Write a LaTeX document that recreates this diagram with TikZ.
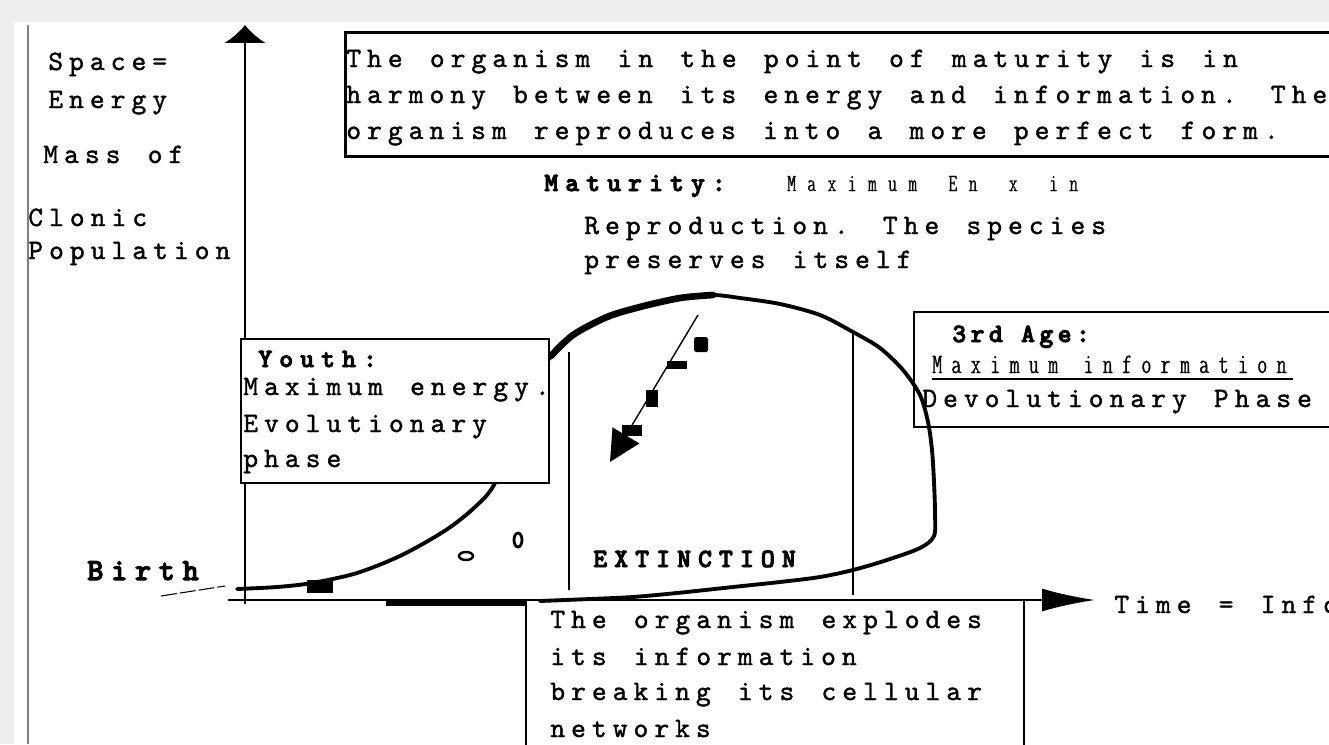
\documentclass[tikz,border=0pt]{standalone}
\usepackage{fontspec}
\newfontfamily\plainfont{lmmono10-regular}[Extension=.otf, LetterSpace=21.5, FakeBold=1.3]
\newfontfamily\heavyfont{lmmonolt10-bold}[Extension=.otf, LetterSpace=27, FakeBold=3.5]
\newfontfamily\narrowfont{lmmonoltcond10-regular}[Extension=.otf, LetterSpace=33.7, FakeBold=1]
\newcommand\plainset{\plainfont\fontsize{16}{18}\selectfont\spaceskip 15.5pt\relax}
\newcommand\heavyset{\heavyfont\fontsize{15}{17}\selectfont\spaceskip 15pt\relax}
\newcommand\narrowset{\narrowfont\fontsize{16}{18}\selectfont\spaceskip 14.5pt\relax}
\usetikzlibrary{arrows.meta}
\definecolor{pagegray}{HTML}{EDEDED}

\begin{document}
\begin{tikzpicture}[x=0.02cm, y=-0.02cm,
  txt/.style={font=\plainset, anchor=base west, inner sep=0pt},
  hdr/.style={font=\heavyset, anchor=base west, inner sep=0pt},
  thin/.style={font=\narrowset, anchor=base west, inner sep=0pt},
  panel/.style={draw, line width=1.1pt, anchor=north west, inner sep=0pt},
  axis/.style={line width=1.1pt},
  curve/.style={line width=2.2pt, line join=round, line cap=round},
  divider/.style={line width=0.8pt}]
\useasboundingbox (0,0) rectangle (1329,744);
\clip (0,0) rectangle (1329,744);
% page
\fill[pagegray] (0,0) rectangle (1329,744);
\fill[white] (14,22) rectangle (1329,744);
\draw[gray, line width=0.6pt] (28,25) -- (28,744);

% boxes behind the curve
\node[panel, line width=1.5pt, minimum width=20.1cm, minimum height=2.48cm] (harmony) at (344,31) {};
\node[panel, minimum width=8.8cm, minimum height=2.3cm] (thirdage) at (913,311) {};
\draw[line width=1.1pt] (526,600) -- (526,750) (1024,600) -- (1024,750);

% axes
\coordinate (origin) at (245,600);
\coordinate (ytop) at (245,25);
\coordinate (xleft) at (228,600);
\coordinate (xend) at (1095,600);
\draw[axis, -{Latex[length=0.36cm, width=0.84cm]}] (245,604) -- (ytop);
\draw[axis, -{Latex[length=1.06cm, width=0.46cm]}] (xleft) -- (xend);
\fill (386,600) rectangle (527,606);

% phase dividers
\draw[divider] (569,352) -- (569,590);
\draw[divider] (853,333) -- (853,595);

% life curve
\draw[curve] plot[smooth, tension=0.5] coordinates {(237,589) (277,587) (312,583) (357,573) (402,555) (446,530) (475,507) (495,483) (520,420) (550,357) (573,335) (607,317) (640,307) (680,298) (713,295) (740,298) (780,304) (820,315) (853,332) (880,348) (903,370) (920,395) (928,422) (932,450) (934,482) (935,513) (934,536) (920,548) (887,560) (853,570) (820,577) (780,582) (733,587) (677,593) (633,597) (590,599) (540,601)};
\draw[line width=3.8pt, line cap=round] plot[smooth, tension=0.5] coordinates {(551,356) (573,335) (607,317) (640,307) (680,298) (713,295)};
\fill (307,580) rectangle (333,593);
\draw[line width=1.4pt] (466,556) ellipse [x radius=7, y radius=4];
\draw[line width=1.6pt] (518,540) ellipse [x radius=4, y radius=7];

% reproduction arrow
\coordinate (seed) at (698,315);
\coordinate (offspring) at (610,462);
\draw[line width=0.8pt, -{Triangle[length=0.62cm, width=0.62cm]}] (seed) -- (offspring);
\fill[rounded corners=1pt] (694,337) rectangle (708,352);
\fill (667,361) rectangle (687,369);
\fill (646,390) rectangle (658,407);
\fill (622,425) rectangle (642,436);

% birth
\node[hdr, font=\heavyfont\fontsize{17.5}{20}\selectfont\addfontfeatures{LetterSpace=25}] (birth) at (87,580) {Birth};
\draw[line width=0.6pt, dash pattern=on 0.32cm off 0.06cm] (161,596) -- (225,586);

% youth box over the curve
\node[panel, fill=white, minimum width=6.16cm, minimum height=2.88cm] (youth) at (240,338) {};
\node[hdr] (youthhead) at (258,367) {Youth:};
\node[txt] (youth1) at (243,395) {Maximum energy.};
\node[txt] (youth2) at (243,432) {Evolutionary};
\node[txt] (youth3) at (243,467) {phase};

% axis labels
\node[txt] (space) at (48,70) {Space=};
\node[txt] (energy) at (48,108) {Energy};
\node[txt] (mass) at (43,163) {Mass of};
\node[txt] (clonic) at (28,226) {Clonic};
\node[txt] (population) at (28,259) {Population};
\node[txt] (timeinfo) at (1114,613) {Time = Info};

% maturity
\node[txt] (harmony1) at (346,67) {The organism in the point of maturity is in};
\node[txt] (harmony2) at (346,103) {harmony between its energy and information. The};
\node[txt] (harmony3) at (346,139) {organism reproduces into a more perfect form.};
\node[hdr] (maturity) at (544,191) {Maturity:};
\node[thin, font=\narrowfont\fontsize{14}{16}\selectfont\addfontfeatures{LetterSpace=47}\spaceskip 18pt\relax] (maxboth) at (787,191) {Maximum En x in};
\node[txt] (repro1) at (584,234) {Reproduction. The species};
\node[txt] (repro2) at (584,268) {preserves itself};

% third age
\node[hdr, font=\heavyfont\fontsize{15}{17}\selectfont\addfontfeatures{LetterSpace=17}\spaceskip 10.4pt\relax] (agehead) at (952,342) {3rd Age:};
\node[thin] (maxinfo) at (932,373) {Maximum information};
\draw[line width=0.9pt] (932,379) -- (1293,379);
\node[txt] (devol) at (922,407) {Devolutionary Phase};

% extinction
\node[hdr] (extinction) at (593,567) {EXTINCTION};
\node[txt] (explode1) at (550,628) {The organism explodes};
\node[txt] (explode2) at (550,665) {its information};
\node[txt] (explode3) at (550,700) {breaking its cellular};
\node[txt] (explode4) at (550,737) {networks};
\end{tikzpicture}
\end{document}
